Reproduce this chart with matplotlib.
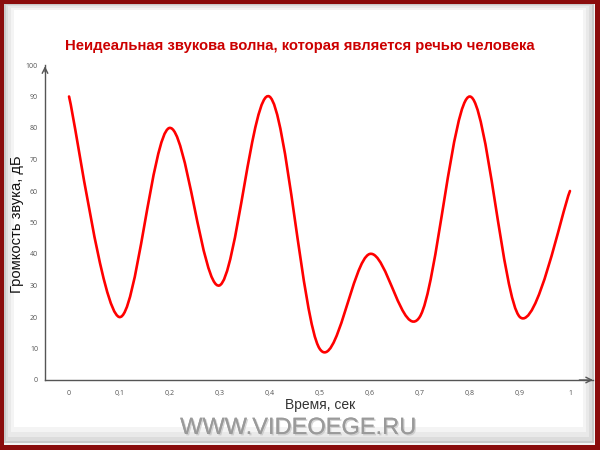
import matplotlib
matplotlib.use("Agg")
import matplotlib.pyplot as plt
from matplotlib.path import Path
from matplotlib.patches import PathPatch, Rectangle
import matplotlib.patheffects as pe

# ---- data ----
times = [0, 0.1, 0.2, 0.3, 0.4, 0.5, 0.6, 0.7, 0.8, 0.9, 1.0]
volume = [90, 20, 80, 30, 90, 10, 40, 20, 90, 20, 60]
x_tick_labels = ["0", "0,1", "0,2", "0,3", "0,4", "0,5", "0,6", "0,7", "0,8", "0,9", "1"]
y_ticks = [0, 10, 20, 30, 40, 50, 60, 70, 80, 90, 100]
title = "Неидеальная звукова волна, которая является речью человека"
xlabel = "Время, сек"
ylabel = "Громкость звука, дБ"
watermark = "WWW.VIDEOEGE.RU"

W, H = 600, 450
fig = plt.figure(figsize=(6, 4.5), dpi=100)
fig.patch.set_facecolor("#8a0c0c")

def frect(x0, y0, x1, y1, color, z):
    # pixel coordinates, y from top
    fig.patches.append(Rectangle((x0 / W, 1 - y1 / H), (x1 - x0) / W, (y1 - y0) / H,
                                 transform=fig.transFigure, facecolor=color,
                                 edgecolor="none", zorder=z))

# frame with soft shadow
frect(4, 4, 595, 445, "#f4f4f4", -10)
frect(4, 4, 594, 443, "#c9c9c9", -9)
frect(6, 5, 592, 441, "#dcdcdc", -8)
frect(8, 6, 589, 437, "#e9e9e9", -7)
frect(11, 8, 586, 432, "#f4f4f4", -6)
frect(14, 10, 583, 427, "#ffffff", -5)

ax = fig.add_axes([45 / W, 1 - 380 / H, (593 - 45) / W, (380 - 65) / H])
ax.set_facecolor("none")
ax.set_xlim(-0.048, 1.046)
ax.set_ylim(0, 100)

# Excel-like smoothed line: cubic Bezier with Catmull-Rom control points
n = len(times)
verts = [(times[0], volume[0])]
codes = [Path.MOVETO]
for i in range(n - 1):
    p0 = (times[i - 1], volume[i - 1]) if i > 0 else (times[i], volume[i])
    p1 = (times[i], volume[i])
    p2 = (times[i + 1], volume[i + 1])
    p3 = (times[i + 2], volume[i + 2]) if i + 2 < n else p2
    c1 = (p1[0] + (p2[0] - p0[0]) / 6, p1[1] + (p2[1] - p0[1]) / 6)
    c2 = (p2[0] - (p3[0] - p1[0]) / 6, p2[1] - (p3[1] - p1[1]) / 6)
    verts += [c1, c2, p2]
    codes += [Path.CURVE4] * 3
ax.add_patch(PathPatch(Path(verts, codes), facecolor="none", edgecolor="#ff0000",
                       linewidth=1.9, capstyle="round", joinstyle="round", zorder=3))

for s in ["top", "right"]:
    ax.spines[s].set_visible(False)
for s in ["left", "bottom"]:
    ax.spines[s].set_color("#555555")
    ax.spines[s].set_linewidth(1.0)

# arrow heads
ax.annotate("", xy=(0, 1.005), xytext=(0, 0.97), xycoords="axes fraction",
            arrowprops=dict(arrowstyle="->", color="#555555", lw=1.0))
ax.annotate("", xy=(1.005, 0), xytext=(0.97, 0), xycoords="axes fraction",
            arrowprops=dict(arrowstyle="->", color="#555555", lw=1.0))

ax.set_xticks(times)
ax.set_xticklabels(x_tick_labels)
ax.set_yticks(y_ticks)
ax.tick_params(length=0, labelsize=5, labelcolor="#555555")
ax.tick_params(axis="x", pad=7)
ax.tick_params(axis="y", pad=5)
for lab in ax.get_xticklabels() + ax.get_yticklabels():
    lab.set_family("Open Sans")

fig.text(300 / W, 1 - 46 / H, title, ha="center", va="center", fontsize=10.7,
         fontweight="bold", color="#cc0000", family="Liberation Sans")
fig.text(17 / W, 1 - 224 / H, ylabel, ha="center", va="center", rotation=90,
         fontsize=10.6, color="#111111", family="Liberation Sans")
fig.text(320 / W, 1 - 405 / H, xlabel, ha="center", va="center",
         fontsize=10, color="#333333", family="Liberation Sans")
fig.text(298 / W, 1 - 428 / H, watermark, ha="center", va="center",
         fontsize=17, color="#9a9a9a", family="Liberation Sans",
         path_effects=[pe.withSimplePatchShadow(offset=(1, -1), shadow_rgbFace="#bbbbbb", alpha=0.6),
                       pe.Normal()])

fig.savefig("out.png", dpi=100, facecolor=fig.get_facecolor())
